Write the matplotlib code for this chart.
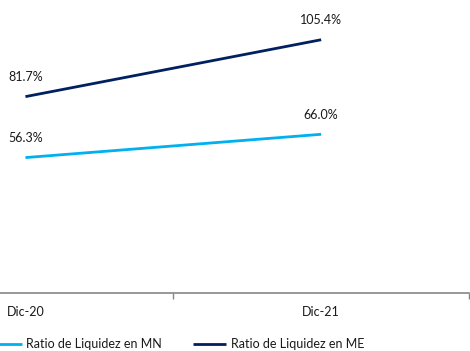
import matplotlib
matplotlib.use('Agg')
import matplotlib.pyplot as plt

plt.rcParams['font.family'] = ['Lato', 'DejaVu Sans']

W, H = 470, 351

# data
periods = ['Dic-20', 'Dic-21']
ratio_mn = [56.3, 66.0]
ratio_me = [81.7, 105.4]
series_names = ['Ratio de Liquidez en MN', 'Ratio de Liquidez en ME']

C_MN = '#00B0F0'
C_ME = '#002060'
TXT = '#1a1a1a'
AXC = '#868686'

fig = plt.figure(figsize=(W / 100, H / 100), dpi=100)
# plot area is cut on the left side in the original
left_px, right_px = 173.3 - 295.7, 469.0
bottom_px = 292.7
ax = fig.add_axes([left_px / W, 1 - bottom_px / H,
                   (right_px - left_px) / W, 120 * 2.4 / H])

x = list(range(len(periods)))
ax.plot(x, ratio_mn, color=C_MN, lw=2.0, solid_capstyle='butt', label=series_names[0])
ax.plot(x, ratio_me, color=C_ME, lw=2.0, solid_capstyle='butt', label=series_names[1])

for vals in (ratio_mn, ratio_me):
    for xi, v in zip(x, vals):
        ax.annotate('{:.1f}%'.format(v), (xi, v), xytext=(0, 14), textcoords='offset points',
                    ha='center', va='center', fontsize=9, color=TXT)

ax.set_xlim(-0.5, len(periods) - 0.5)
ax.set_ylim(0, 120)
ax.set_xticks(x)
ax.set_xticklabels(periods, fontsize=9, color=TXT)
ax.set_xticks([i - 0.5 for i in range(len(periods) + 1)], minor=True)
ax.tick_params(axis='x', which='major', length=0, pad=9.5)
ax.tick_params(axis='x', which='minor', length=4, width=1, color=AXC, direction='out')
ax.set_yticks([])
for s in ('top', 'left', 'right'):
    ax.spines[s].set_visible(False)
ax.spines['bottom'].set_color(AXC)
ax.spines['bottom'].set_linewidth(1.2)

fig.legend(loc='center left', bbox_to_anchor=(-12 / W, 1 - 344.5 / H), ncol=2,
           frameon=False, fontsize=9, handlelength=2.7, handletextpad=0.35,
           columnspacing=2.45, borderpad=0, borderaxespad=0, labelcolor=TXT)

fig.savefig('out.png', dpi=100)
